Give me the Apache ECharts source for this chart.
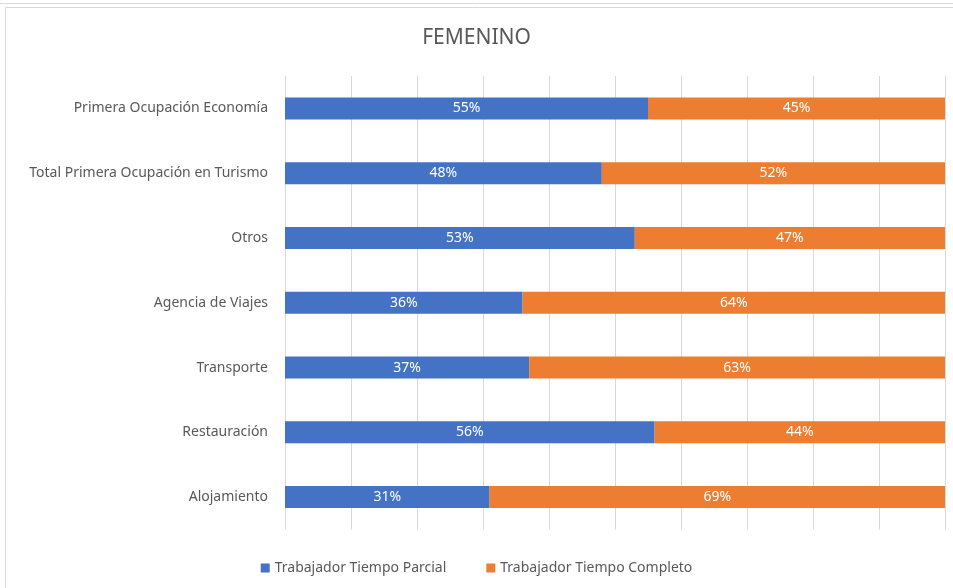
<!DOCTYPE html>
<html><head><meta charset="utf-8">
<script src="https://cdn.jsdelivr.net/npm/echarts@6/dist/echarts.min.js"></script>
<style>html,body{margin:0;padding:0;background:#fff}#c{width:953px;height:588px}</style>
</head><body><div id="c"></div>
<script>
const categories = ["Alojamiento","Restauración","Transporte","Agencia de Viajes","Otros","Total Primera Ocupación en Turismo","Primera Ocupación Economía"];
const parcial = [31,56,37,36,53,48,55];
const completo = [69,44,63,64,47,52,45];
const seriesNames = ["Trabajador Tiempo Parcial","Trabajador Tiempo Completo"];
const font = "Noto Sans";
const chart = echarts.init(document.getElementById('c'));
chart.setOption({
  animation:false,
  textStyle:{fontFamily:font},
  title:{text:"FEMENINO",left:'center',top:23,textStyle:{fontFamily:font,fontSize:21,fontWeight:'normal',color:'#595959'}},
  graphic:[
    {type:'line',shape:{x1:0,y1:3.5,x2:953,y2:3.5},style:{stroke:'#d9d9d9',lineWidth:1}},
    {type:'rect',shape:{x:5.5,y:7.5,width:960,height:600},style:{fill:'none',stroke:'#d9d9d9',lineWidth:1}}
  ],
  grid:{left:285,right:8,top:76,bottom:58.5,containLabel:false},
  legend:{bottom:8,left:'center',itemWidth:9,itemHeight:9,itemGap:40,icon:'rect',
    textStyle:{fontFamily:font,fontSize:14,color:'#595959'},data:seriesNames},
  xAxis:{type:'value',min:0,max:100,interval:10,axisLabel:{show:false},axisLine:{show:false},axisTick:{show:false},
    splitLine:{show:true,lineStyle:{color:'#d9d9d9',width:1}}},
  yAxis:{type:'category',data:categories,axisLine:{show:false},axisTick:{show:false},
    axisLabel:{fontFamily:font,fontSize:14,color:'#595959',margin:17}},
  series:[
    {name:seriesNames[0],type:'bar',stack:'t',data:parcial,barWidth:'34%',itemStyle:{color:'#4472C4'},
     label:{show:true,position:'inside',formatter:'{c}%',color:'#fff',fontSize:14,fontFamily:font}},
    {name:seriesNames[1],type:'bar',stack:'t',data:completo,barWidth:'34%',itemStyle:{color:'#ED7D31'},
     label:{show:true,position:'inside',formatter:'{c}%',color:'#fff',fontSize:14,fontFamily:font}}
  ]
});
</script></body></html>
